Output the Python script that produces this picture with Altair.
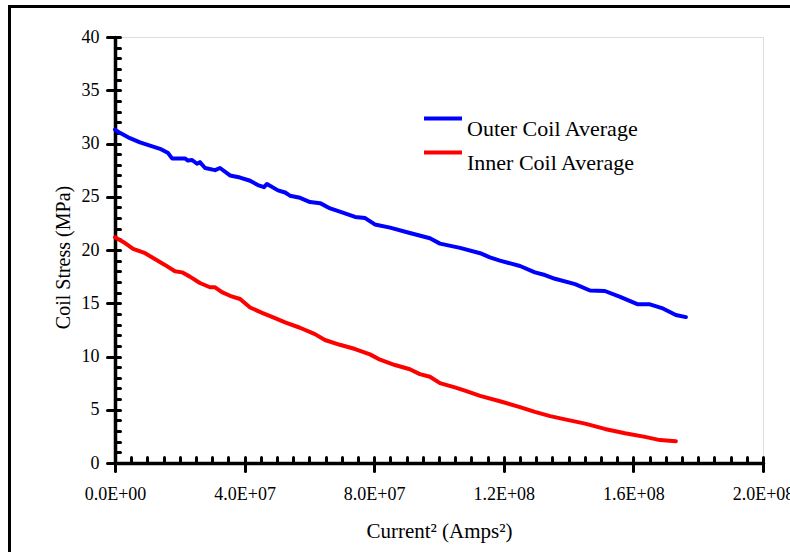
import altair as alt
import pandas as pd

# ---- data ----
outer_x = [0, 1.5e6, 4.6e6, 7.7e6, 10.8e6, 13.9e6, 16.4e6, 17.6e6, 21.6e6, 22.5e6, 23.8e6, 25.3e6,
           26.2e6, 27.8e6, 30.9e6, 32.4e6, 35.5e6, 38.6e6, 41.7e6, 44.1e6, 46.0e6, 46.9e6, 50.3e6,
           52.5e6, 54.0e6, 57.1e6, 60.2e6, 63.3e6, 66.4e6, 69.4e6, 74.1e6, 77.2e6, 80.2e6, 84.9e6,
           91.0e6, 97.2e6, 100.3e6, 106.5e6, 112.7e6, 115.7e6, 118.8e6, 125.0e6, 129.6e6, 132.7e6,
           135.8e6, 142.0e6, 146.6e6, 151.2e6, 155.9e6, 161.4e6, 165.1e6, 168.8e6, 173.1e6, 176.2e6]
outer_y = [31.3, 31.0, 30.5, 30.1, 29.8, 29.5, 29.1, 28.6, 28.6, 28.4, 28.45, 28.1,
           28.25, 27.7, 27.5, 27.7, 27.0, 26.8, 26.5, 26.1, 25.9, 26.2, 25.6,
           25.4, 25.1, 24.9, 24.5, 24.4, 23.9, 23.6, 23.1, 23.0, 22.4, 22.1,
           21.6, 21.1, 20.6, 20.2, 19.7, 19.3, 19.0, 18.5, 17.9, 17.65,
           17.3, 16.8, 16.2, 16.15, 15.6, 14.9, 14.9, 14.55, 13.9, 13.7]

inner_x = [0, 3.1e6, 5.6e6, 9.3e6, 12.3e6, 15.4e6, 18.5e6, 20.7e6, 23.1e6, 26.2e6, 29.3e6, 30.9e6,
           33.0e6, 35.5e6, 38.6e6, 41.7e6, 45.4e6, 49.4e6, 52.5e6, 57.1e6, 61.7e6, 64.8e6, 69.4e6,
           74.1e6, 78.7e6, 81.8e6, 86.4e6, 91.0e6, 94.1e6, 97.2e6, 100.3e6, 104.9e6, 108.0e6,
           112.7e6, 118.8e6, 125.0e6, 129.6e6, 134.3e6, 138.9e6, 145.1e6, 151.2e6, 157.4e6,
           163.6e6, 168.2e6, 173.1e6]
inner_y = [21.2, 20.65, 20.1, 19.7, 19.15, 18.6, 18.0, 17.9, 17.5, 16.9, 16.5, 16.5,
           16.05, 15.7, 15.4, 14.6, 14.1, 13.6, 13.2, 12.7, 12.1, 11.55, 11.1,
           10.7, 10.2, 9.7, 9.2, 8.8, 8.35, 8.1, 7.5, 7.1, 6.8,
           6.3, 5.8, 5.25, 4.8, 4.4, 4.1, 3.7, 3.2, 2.8,
           2.45, 2.15, 2.05]

series_names = ["Outer Coil Average", "Inner Coil Average"]
series_colors = ["#0000FF", "#FF0000"]

x_major = [0, 4e7, 8e7, 1.2e8, 1.6e8, 2e8]
x_labels = ["0.0E+00", "4.0E+07", "8.0E+07", "1.2E+08", "1.6E+08", "2.0E+08"]
x_minor = [i * 5e6 for i in range(41)]
y_major = [0, 5, 10, 15, 20, 25, 30, 35, 40]
y_minor = list(range(41))

df = pd.concat([
    pd.DataFrame({"current2": outer_x, "stress": outer_y, "series": series_names[0]}),
    pd.DataFrame({"current2": inner_x, "stress": inner_y, "series": series_names[1]}),
])

FONT = "Liberation Serif"
label_expr = "[" + ",".join(f"'{s}'" for s in x_labels) + "][round(datum.value / 40000000)]"

xscale = alt.Scale(domain=[0, 2e8], nice=False, zero=False)
yscale = alt.Scale(domain=[0, 40], nice=False, zero=False)

lines = alt.Chart(df).mark_line(strokeWidth=4, strokeJoin="round", strokeCap="round").encode(
    x=alt.X("current2:Q", scale=xscale, axis=alt.Axis(
        orient="bottom", values=x_major, labelExpr=label_expr, grid=False,
        domain=True, domainWidth=3.5, domainColor="black", domainCap="round",
        ticks=True, tickSize=8, tickWidth=3, tickColor="black", tickCap="round",
        labelFont=FONT, labelFontSize=18, labelColor="black", labelPadding=14,
        labelFlush=False, labelOverlap=False,
        title="Current\u00b2 (Amps\u00b2)", titleFont=FONT, titleFontSize=21,
        titleFontWeight="normal", titleColor="black", titleY=74,
        titleBaseline="alphabetic")),
    y=alt.Y("stress:Q", scale=yscale, axis=alt.Axis(
        orient="left", values=y_major, grid=False,
        domain=True, domainWidth=3.5, domainColor="black", domainCap="round",
        ticks=True, tickSize=8, tickWidth=3, tickColor="black", tickCap="round",
        labelFont=FONT, labelFontSize=18, labelColor="black", labelPadding=8,
        labelFlush=False, labelOverlap=False,
        title="Coil Stress (MPa)", titleFont=FONT, titleFontSize=20,
        titleFontWeight="normal", titleColor="black", titleX=-46, titleY=220,
        titleBaseline="alphabetic")),
    color=alt.Color("series:N", sort=series_names,
                    scale=alt.Scale(domain=series_names, range=series_colors),
                    legend=alt.Legend(title=None, orient="none", legendX=316.5, legendY=70,
                                      symbolType="M-2,0H2", symbolSize=361,
                                      symbolStrokeWidth=4, labelFont=FONT,
                                      labelFontSize=22, labelColor="black",
                                      labelOffset=12.5, labelBaseline="top",
                                      labelLimit=500, rowPadding=1, padding=0)),
)

inner_axes = alt.Chart(df).mark_point(opacity=0).encode(
    x=alt.X("current2:Q", scale=xscale, axis=alt.Axis(
        orient="top", offset=-426, values=x_minor, grid=False, domain=False,
        labels=False, ticks=True, tickSize=6, tickWidth=3, tickColor="black",
        tickCap="round", title="")),
    y=alt.Y("stress:Q", scale=yscale, axis=alt.Axis(
        orient="right", offset=-648, values=y_minor, grid=False, domain=False,
        labels=False, ticks=True, tickSize=5, tickWidth=3, tickColor="black",
        tickCap="round", title="")),
)

frame = alt.Chart(alt.Data(values=[{"k": 1}])).mark_rect(
    fillOpacity=0, stroke="black", strokeWidth=3
).encode(
    x=alt.value(-105.5), x2=alt.value(700), y=alt.value(-30.5), y2=alt.value(560)
)

chart = alt.layer(frame, inner_axes, lines).resolve_axis(
    x="independent", y="independent"
).properties(
    width=648, height=426,
    autosize=alt.AutoSizeParams(type="none"),
    padding={"left": 115, "top": 37, "right": 27, "bottom": 89},
).configure_view(stroke=None).configure(background="white")

chart.save("out.html", embed_options={"renderer": "svg", "actions": False})
